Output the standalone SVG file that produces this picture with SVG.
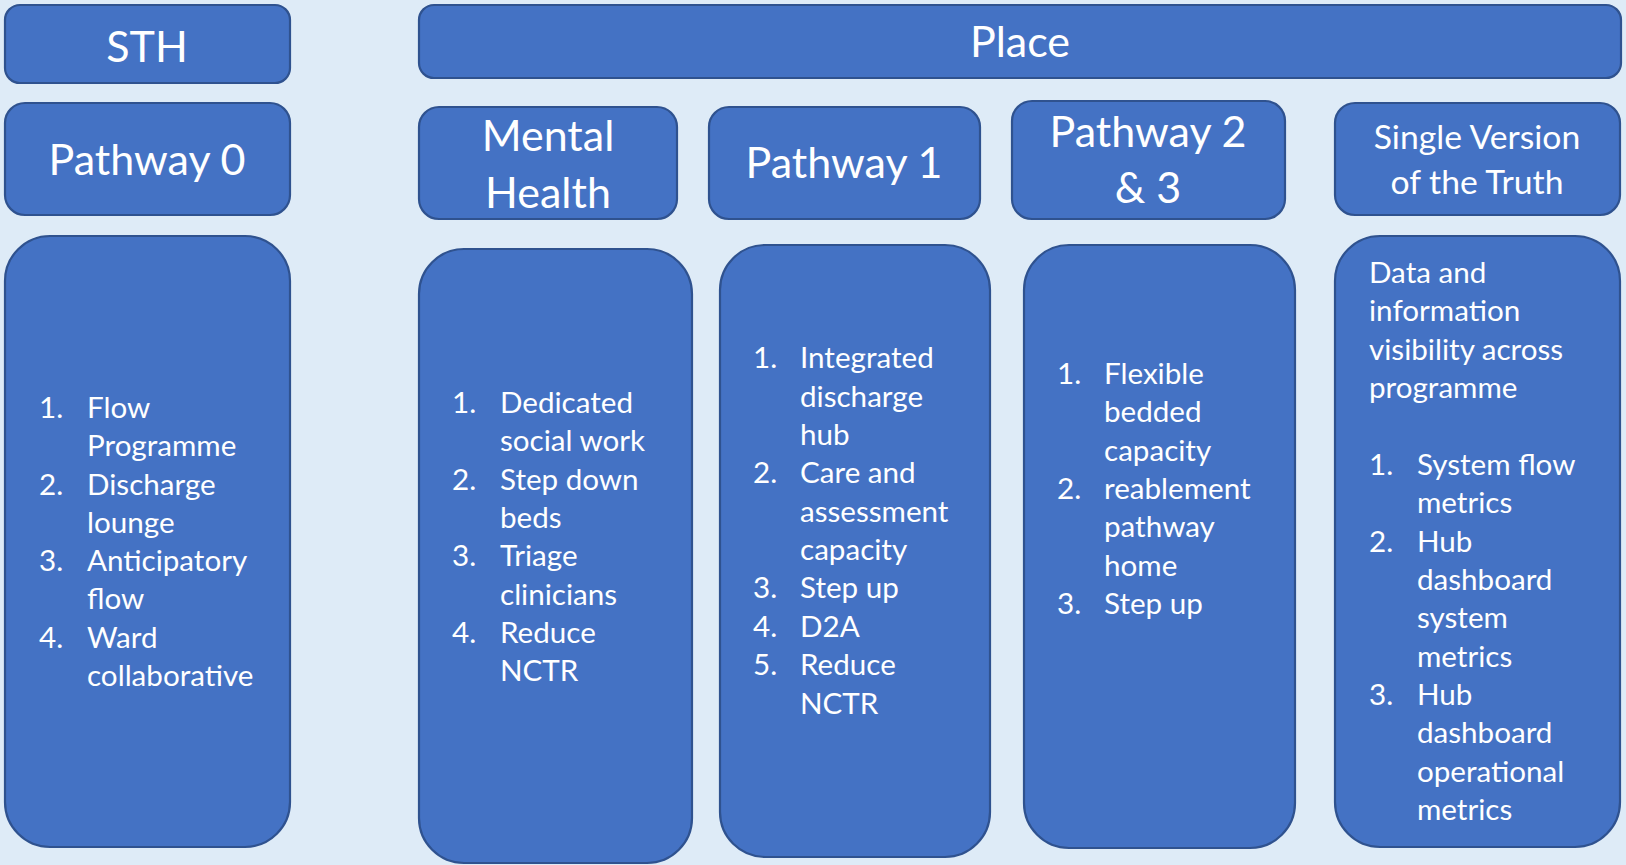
<svg xmlns="http://www.w3.org/2000/svg" width="1626" height="865" viewBox="0 0 1626 865">
<style>
.bg{fill:#DEEBF7}
.box{fill:#4472C4;stroke:#2F528F;stroke-width:2.2}
text{font-family:Lato,"Open Sans","Liberation Sans",sans-serif;fill:#FFFFFF}
.h{font-size:43px;text-anchor:middle}
.hs{font-size:33.7px;text-anchor:middle}
.l{font-size:29.6px}
</style>
<rect class="bg" x="0" y="0" width="1626" height="865"/>
<g id="sth">
<rect class="box" x="5" y="5" width="285" height="78" rx="15"/>
<text class="h" x="147" y="62">STH</text>
</g>
<g id="place">
<rect class="box" x="419" y="5" width="1202" height="73" rx="15"/>
<text class="h" x="1020" y="57">Place</text>
</g>
<g id="pathway0">
<rect class="box" x="5" y="103" width="285" height="112" rx="20"/>
<text class="h" x="147" y="175">Pathway 0</text>
</g>
<g id="mental-health">
<rect class="box" x="419" y="107" width="258" height="112" rx="20"/>
<text class="h" x="548" y="151">Mental</text>
<text class="h" x="548" y="208">Health</text>
</g>
<g id="pathway1">
<rect class="box" x="709" y="107" width="271" height="112" rx="20"/>
<text class="h" x="844" y="178">Pathway 1</text>
</g>
<g id="pathway23">
<rect class="box" x="1012" y="101" width="273" height="118" rx="20"/>
<text class="h" x="1148" y="147">Pathway 2</text>
<text class="h" x="1148" y="203">&amp; 3</text>
</g>
<g id="svt">
<rect class="box" x="1335" y="103" width="285" height="112" rx="20"/>
<text class="hs" x="1477" y="149">Single Version</text>
<text class="hs" x="1477" y="194">of the Truth</text>
</g>
<g id="pathway0-list">
<rect class="box" x="5" y="236" width="285" height="611" rx="45"/>
<text class="l" x="39" y="418">1.</text><text class="l" x="87" y="418">Flow</text>
<text class="l" x="87" y="456">Programme</text>
<text class="l" x="39" y="495">2.</text><text class="l" x="87" y="495">Discharge</text>
<text class="l" x="87" y="533">lounge</text>
<text class="l" x="39" y="571">3.</text><text class="l" x="87" y="571">Anticipatory</text>
<text class="l" x="87" y="609">flow</text>
<text class="l" x="39" y="648">4.</text><text class="l" x="87" y="648">Ward</text>
<text class="l" x="87" y="686">collaborative</text>
</g>
<g id="mental-health-list">
<rect class="box" x="419" y="249" width="273" height="614" rx="45"/>
<text class="l" x="452" y="413">1.</text><text class="l" x="500" y="413">Dedicated</text>
<text class="l" x="500" y="451">social work</text>
<text class="l" x="452" y="490">2.</text><text class="l" x="500" y="490">Step down</text>
<text class="l" x="500" y="528">beds</text>
<text class="l" x="452" y="566">3.</text><text class="l" x="500" y="566">Triage</text>
<text class="l" x="500" y="605">clinicians</text>
<text class="l" x="452" y="643">4.</text><text class="l" x="500" y="643">Reduce</text>
<text class="l" x="500" y="681">NCTR</text>
</g>
<g id="pathway1-list">
<rect class="box" x="720" y="245" width="270" height="612" rx="45"/>
<text class="l" x="753" y="368">1.</text><text class="l" x="800" y="368">Integrated</text>
<text class="l" x="800" y="407">discharge</text>
<text class="l" x="800" y="445">hub</text>
<text class="l" x="753" y="483">2.</text><text class="l" x="800" y="483">Care and</text>
<text class="l" x="800" y="522">assessment</text>
<text class="l" x="800" y="560">capacity</text>
<text class="l" x="753" y="598">3.</text><text class="l" x="800" y="598">Step up</text>
<text class="l" x="753" y="637">4.</text><text class="l" x="800" y="637">D2A</text>
<text class="l" x="753" y="675">5.</text><text class="l" x="800" y="675">Reduce</text>
<text class="l" x="800" y="714">NCTR</text>
</g>
<g id="pathway23-list">
<rect class="box" x="1024" y="245" width="271" height="603" rx="45"/>
<text class="l" x="1057" y="384">1.</text><text class="l" x="1104" y="384">Flexible</text>
<text class="l" x="1104" y="422">bedded</text>
<text class="l" x="1104" y="461">capacity</text>
<text class="l" x="1057" y="499">2.</text><text class="l" x="1104" y="499">reablement</text>
<text class="l" x="1104" y="537">pathway</text>
<text class="l" x="1104" y="576">home</text>
<text class="l" x="1057" y="614">3.</text><text class="l" x="1104" y="614">Step up</text>
</g>
<g id="svt-list">
<rect class="box" x="1335" y="236" width="285" height="611" rx="45"/>
<text class="l" x="1369" y="283">Data and</text>
<text class="l" x="1369" y="321">information</text>
<text class="l" x="1369" y="360">visibility across</text>
<text class="l" x="1369" y="398">programme</text>
<text class="l" x="1369" y="475">1.</text><text class="l" x="1417" y="475">System flow</text>
<text class="l" x="1417" y="513">metrics</text>
<text class="l" x="1369" y="552">2.</text><text class="l" x="1417" y="552">Hub</text>
<text class="l" x="1417" y="590">dashboard</text>
<text class="l" x="1417" y="628">system</text>
<text class="l" x="1417" y="667">metrics</text>
<text class="l" x="1369" y="705">3.</text><text class="l" x="1417" y="705">Hub</text>
<text class="l" x="1417" y="743">dashboard</text>
<text class="l" x="1417" y="782">operational</text>
<text class="l" x="1417" y="820">metrics</text>
</g>
<g id="connectors"/>
</svg>
